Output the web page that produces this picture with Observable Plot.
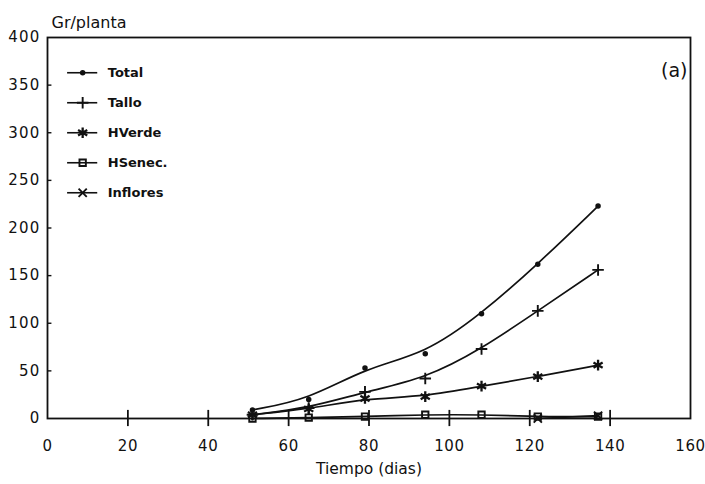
<!DOCTYPE html>
<html>
<head>
<meta charset="utf-8">
<script src="https://cdn.jsdelivr.net/npm/d3@7"></script>
<script src="https://cdn.jsdelivr.net/npm/@observablehq/plot@0.6"></script>
<style>
  body { margin: 0; background: #fff; }
  svg { display: block; }
  g[aria-label="y-axis tick label"] text { letter-spacing: 1.2px; }
  g[aria-label="x-axis tick label"] text { letter-spacing: 0.6px; }
</style>
</head>
<body>
<div id="chart"></div>
<script>
// Dry weight per plant (g) over time (days after planting), by organ
const days = [51, 65, 79, 94, 108, 122, 137];
const total = [9, 20, 53, 68, 110, 162, 223];
const tallo = [4, 11, 28, 42, 73, 113, 156];
const hVerde = [4, 10, 21, 23, 34, 44, 56];
const hSenec = [0, 1, 2, 4, 4, 2, 2];
const infloresDays = [122, 137];
const inflores = [0, 3];

const seriesNames = ["Total", "Tallo", "HVerde", "HSenec.", "Inflores"];
const xTicks = [0, 20, 40, 60, 80, 100, 120, 140, 160];
const yTicks = [0, 50, 100, 150, 200, 250, 300, 350, 400];

const symbols = {
  "Total": "circle",
  "Tallo": "plus",
  "HVerde": "asterisk",
  "HSenec.": "square",
  "Inflores": "times"
};
const symbolRadius = {circle: 2, plus: 3.8, asterisk: 5, square: 3.6, times: 3.8};

const rows = (name, xs, ys) => xs.map((x, i) => ({series: name, x, y: ys[i]}));
const data = [
  ...rows("Total", days, total),
  ...rows("Tallo", days, tallo),
  ...rows("HVerde", days, hVerde),
  ...rows("HSenec.", days, hSenec),
  ...rows("Inflores", infloresDays, inflores)
];

// legend entries laid out in the upper-left corner of the frame
const legend = seriesNames.map((name, i) => ({series: name, y: 363 - i * 31.5}));

const ink = "#111";
const markFor = (name) => {
  const sym = symbols[name];
  return sym === "circle"
    ? {symbol: "circle", r: symbolRadius.circle, fill: ink, stroke: ink}
    : {symbol: sym, r: symbolRadius[sym], fill: "none", stroke: ink, strokeWidth: sym === "asterisk" ? 2.3 : 1.9};
};

const marks = [
  Plot.frame({stroke: ink, strokeWidth: 1.8}),
  Plot.axisY({ticks: yTicks, tickSize: 0, tickPadding: 7, label: null, tickFormat: d3.format("d")}),
  Plot.axisX({ticks: xTicks, tickSize: 0, tickPadding: 22, label: null, tickFormat: d3.format("d")}),
  Plot.ruleX(xTicks.filter(t => t > 0 && t < 160), {y1: -8.5, y2: 8.5, stroke: ink, strokeWidth: 1.8}),
  Plot.ruleY(yTicks.filter(t => t > 0 && t < 400), {x1: 0, x2: 1.1, stroke: ink, strokeWidth: 1.4}),
  Plot.text(["Gr/planta"], {frameAnchor: "top-left", lineAnchor: "middle", dx: 4, dy: -15, textAnchor: "start", fontSize: 16, style: "letter-spacing: 0.8px"}),
  Plot.text(["Tiempo (dias)"], {frameAnchor: "bottom", lineAnchor: "middle", dy: 51, fontSize: 15.5}),
  Plot.text(["(a)"], {frameAnchor: "top-right", lineAnchor: "middle", textAnchor: "end", dx: -3, dy: 33, fontSize: 19})
];

for (const name of seriesNames) {
  const sub = data.filter(d => d.series === name);
  marks.push(Plot.line(sub, {x: "x", y: "y", curve: "basis", stroke: ink, strokeWidth: 1.7}));
  marks.push(Plot.dot(sub, {x: "x", y: "y", ...markFor(name)}));
}

for (const e of legend) {
  marks.push(Plot.ruleY([e], {x1: 5, x2: 12.5, y: "y", stroke: ink, strokeWidth: 1.6}));
  marks.push(Plot.dot([e], {x: 8.75, y: "y", ...markFor(e.series)}));
  marks.push(Plot.text([e], {x: 15, y: "y", text: "series", textAnchor: "start", fontWeight: "bold", fontSize: 13}));
}

const chart = Plot.plot({
  width: 705,
  height: 484,
  marginLeft: 47,
  marginRight: 15,
  marginTop: 37,
  marginBottom: 66,
  style: {fontFamily: "DejaVu Sans", fontSize: "15px", color: ink, background: "#fff"},
  x: {domain: [0, 160]},
  y: {domain: [0, 400]},
  marks
});

document.getElementById("chart").append(chart);
</script>
</body>
</html>
